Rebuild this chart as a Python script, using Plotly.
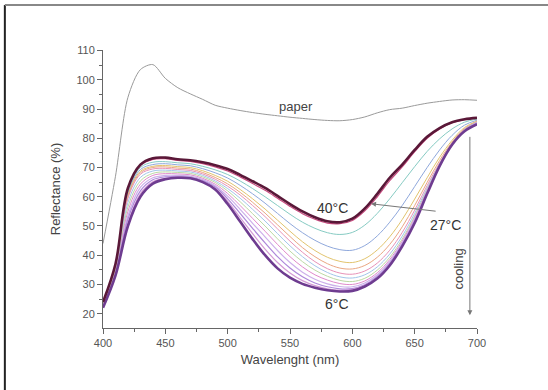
import plotly.graph_objects as go

wavelength = [400, 410, 420, 430, 440, 450, 460, 470, 480, 490, 500, 510, 520, 530, 540, 550,
              560, 570, 580, 590, 600, 610, 620, 630, 640, 650, 660, 670, 680, 690, 700]

paper = [44, 67, 94, 103.5, 105.2, 100.5, 97.3, 95.2, 93.3, 91.3, 90.3, 89.5, 88.8, 88.2, 87.7, 87.2,
         86.8, 86.4, 86.1, 86.0, 86.4, 87.3, 88.7, 89.8, 90.3, 91.2, 92.0, 92.6, 93.1, 93.2, 93.0]

t40 = [24, 37, 63, 71, 73.2, 73.4, 72.8, 72.5, 71.8, 70.8, 69.5, 67.5, 65.3, 63, 60.3, 57.5,
       55, 53, 51.6, 51.3, 52.5, 56, 61, 66.5, 71, 76, 80.5, 83.5, 85.5, 86.5, 87]
s1 = [23.8, 36.5, 62, 70.7, 72.8, 73, 72.4, 72.1, 71.3, 70.2, 68.8, 66.8, 64.5, 62.2, 59.5, 56.7,
      54.2, 52.3, 51, 50.8, 51.9, 55.2, 60, 65.5, 70.2, 75.4, 80, 83.2, 85.3, 86.4, 86.9]
s2 = [23.6, 36, 61.5, 70, 71.8, 72, 71.6, 71.3, 70.4, 69.2, 67.6, 65.4, 62.8, 60, 57, 54,
      51.3, 49.2, 47.7, 47.1, 47.8, 50.3, 54.3, 59.3, 64.8, 70.3, 75.5, 79.8, 83.2, 85.5, 86.6]
s3 = [23.4, 35.5, 61, 69.3, 71, 71.3, 70.9, 70.6, 69.6, 68.2, 66.4, 63.9, 61, 57.8, 54.3, 50.8,
      47.7, 45.1, 43.1, 41.9, 41.7, 43.3, 46.6, 51.3, 57, 63.5, 70, 76, 81, 84.5, 86.2]
s4 = [23.2, 35, 60.5, 68.7, 70.4, 70.7, 70.3, 70, 68.9, 67.3, 65.3, 62.5, 59.3, 55.8, 52, 48.2,
      44.6, 41.6, 39.3, 37.9, 37.5, 38.8, 41.8, 46.3, 52.2, 59.2, 66.5, 73.5, 79.3, 83.7, 85.9]
s5 = [23.1, 34.7, 60, 68.2, 70, 70.2, 69.8, 69.5, 68.3, 66.6, 64.4, 61.5, 58.1, 54.4, 50.4, 46.4,
      42.6, 39.5, 37.1, 35.6, 35.3, 36.5, 39.3, 43.7, 49.7, 57, 64.9, 72.4, 78.7, 83.3, 85.7]
s6 = [23, 34.4, 59.5, 67.7, 69.5, 69.7, 69.3, 69, 67.8, 66, 63.6, 60.6, 57, 53.2, 49, 44.8,
      41, 37.8, 35.4, 33.9, 33.5, 34.6, 37.3, 41.7, 47.8, 55.4, 63.8, 71.6, 78.3, 83.1, 85.6]
s7 = [22.9, 34.2, 58, 66.6, 68.8, 69.1, 68.8, 68.5, 67.3, 65.4, 62.8, 59.5, 55.7, 51.7, 47.4, 43.2,
      39.5, 36.4, 34.1, 32.6, 32.2, 33.3, 36, 40.4, 46.5, 54.3, 63, 71.2, 78.1, 83, 85.5]
s8 = [22.7, 34, 56.5, 65.4, 68, 68.5, 68.3, 68, 66.8, 64.9, 62, 58.3, 54.2, 50, 45.6, 41.4,
      37.8, 34.9, 32.8, 31.4, 31, 32.1, 34.9, 39.3, 45.5, 53.4, 62.5, 71, 78, 82.9, 85.4]
s9 = [22.6, 33.8, 55, 64.3, 67.3, 67.9, 67.8, 67.5, 66.3, 64.3, 61.1, 57, 52.6, 48.2, 43.7, 39.5,
      36, 33.3, 31.5, 30.3, 30, 31.2, 34, 38.5, 44.8, 52.8, 62.2, 70.9, 78, 82.8, 85.3]
s10 = [22.4, 33.6, 53.5, 63.2, 66.5, 67.3, 67.3, 67, 65.9, 63.8, 60.2, 55.7, 50.9, 46.3, 41.6, 37.5,
       34.2, 31.8, 30.2, 29.3, 29.2, 30.5, 33.3, 37.8, 44.2, 52.3, 61.9, 70.8, 78, 82.7, 85.2]
s11 = [22.3, 33.4, 52.3, 62, 65.8, 66.8, 66.9, 66.7, 65.5, 63.3, 59.3, 54.3, 49.2, 44.2, 39.5, 35.6,
       32.6, 30.5, 29.2, 28.5, 28.6, 29.9, 32.7, 37.2, 43.7, 51.8, 61.6, 70.7, 78, 82.6, 85.1]
s12 = [22.1, 33.2, 51, 61, 65.1, 66.3, 66.7, 66.5, 65.2, 62.9, 58.4, 52.9, 47.4, 42.1, 37.5, 33.9,
       31.3, 29.6, 28.5, 28, 28.2, 29.6, 32.3, 36.8, 43.3, 51.4, 61.3, 70.6, 78, 82.5, 85]
t6 = [22, 33, 50, 60, 64.5, 66, 66.5, 66.3, 65, 62.5, 57.5, 51.5, 45.5, 40, 35.5, 32.3,
      30.2, 28.9, 28, 27.6, 27.8, 29.3, 32, 36.5, 43, 51, 61, 70.5, 77.8, 82.4, 84.8]

spectra = [t40, s1, s2, s3, s4, s5, s6, s7, s8, s9, s10, s11, s12, t6]
colors = ['#5a1838', '#c8487e', '#86cbc3', '#8fa8dc', '#e2c46e', '#eaa682', '#e892b8',
          '#a3c6ea', '#bcd9a4', '#e08acb', '#cdb0ea', '#ae88da', '#d49ad6', '#6e3c90']
widths = [2.6, 1.2, 1, 1, 1, 1, 1, 1, 1, 1, 1.2, 1.2, 1.2, 2.6]

fig = go.Figure()
fig.add_trace(go.Scatter(x=wavelength, y=paper, mode='lines',
                         line=dict(color='#9a9a9a', width=1, shape='spline', smoothing=0.8),
                         showlegend=False, hoverinfo='skip'))
order = list(range(len(spectra)))
order = order[1:-1] + [len(spectra) - 1, 0]
for i in order:
    fig.add_trace(go.Scatter(x=wavelength, y=spectra[i], mode='lines',
                             line=dict(color=colors[i], width=widths[i], shape='spline'),
                             showlegend=False, hoverinfo='skip'))

font_fam = 'Liberation Sans, Arial, sans-serif'
ann = dict(xref='x', yref='y', showarrow=False, font=dict(family=font_fam, size=14, color='#333'))
fig.add_annotation(x=555, y=90.8, text='paper', **{**ann, 'font': dict(family=font_fam, size=13, color='#444')})
fig.add_annotation(x=584, y=56.2, text='40°C', **ann)
fig.add_annotation(x=675, y=50.2, text='27°C', **ann)
fig.add_annotation(x=587.5, y=23.4, text='6°C', **ann)
fig.add_annotation(x=685.5, y=35.4, text='cooling', textangle=-90,
                   **{**ann, 'font': dict(family=font_fam, size=13, color='#444')})
# arrow from 27°C to 40°C curve
fig.add_annotation(x=615, y=57.6, ax=668, ay=55.0, xref='x', yref='y', axref='x', ayref='y',
                   showarrow=True, arrowhead=2, arrowsize=1, arrowwidth=1, arrowcolor='#777', text='')
# cooling arrow
fig.add_annotation(x=694.3, y=19.5, ax=694.3, ay=81, xref='x', yref='y', axref='x', ayref='y',
                   showarrow=True, arrowhead=2, arrowsize=1, arrowwidth=1, arrowcolor='#777', text='')

# image frame (left and top edges)
fig.add_shape(type='line', xref='paper', yref='paper', x0=-0.2624, x1=-0.2624, y0=-0.23, y1=1.162,
              line=dict(color='#222', width=2))
fig.add_shape(type='line', xref='paper', yref='paper', x0=-0.2624, x1=1.2, y0=1.162, y1=1.162,
              line=dict(color='#888', width=2))

tickfont = dict(family=font_fam, size=11, color='#555')
fig.update_xaxes(range=[400, 700], tickvals=[400, 450, 500, 550, 600, 650, 700],
                 ticks='outside', ticklen=5, tickcolor='#666', showline=True, linecolor='#666',
                 linewidth=1, showgrid=False, zeroline=False, tickfont=tickfont,
                 minor=dict(tickvals=[425, 475, 525, 575, 625, 675], ticks='outside', ticklen=3, tickcolor='#666'),
                 title=dict(text='Wavelenght (nm)', font=dict(family=font_fam, size=13, color='#444'), standoff=6))
fig.update_yaxes(range=[15.1, 110.2], tickvals=[20, 30, 40, 50, 60, 70, 80, 90, 100, 110],
                 ticks='outside', ticklen=5, tickcolor='#666', showline=True, linecolor='#666',
                 linewidth=1, showgrid=False, zeroline=False, tickfont=tickfont,
                 minor=dict(tickvals=[25, 35, 45, 55, 65, 75, 85, 95, 105], ticks='outside', ticklen=3, tickcolor='#666'),
                 title=dict(text='Reflectance (%)', font=dict(family=font_fam, size=13, color='#444'), standoff=12))

fig.update_layout(width=548, height=390, margin=dict(l=103, r=71, t=50, b=62),
                  paper_bgcolor='white', plot_bgcolor='white', showlegend=False)
fig.write_html('out.html', config={'displayModeBar': False},
               post_script="document.body.style.margin='0px';document.body.style.padding='0px';")
